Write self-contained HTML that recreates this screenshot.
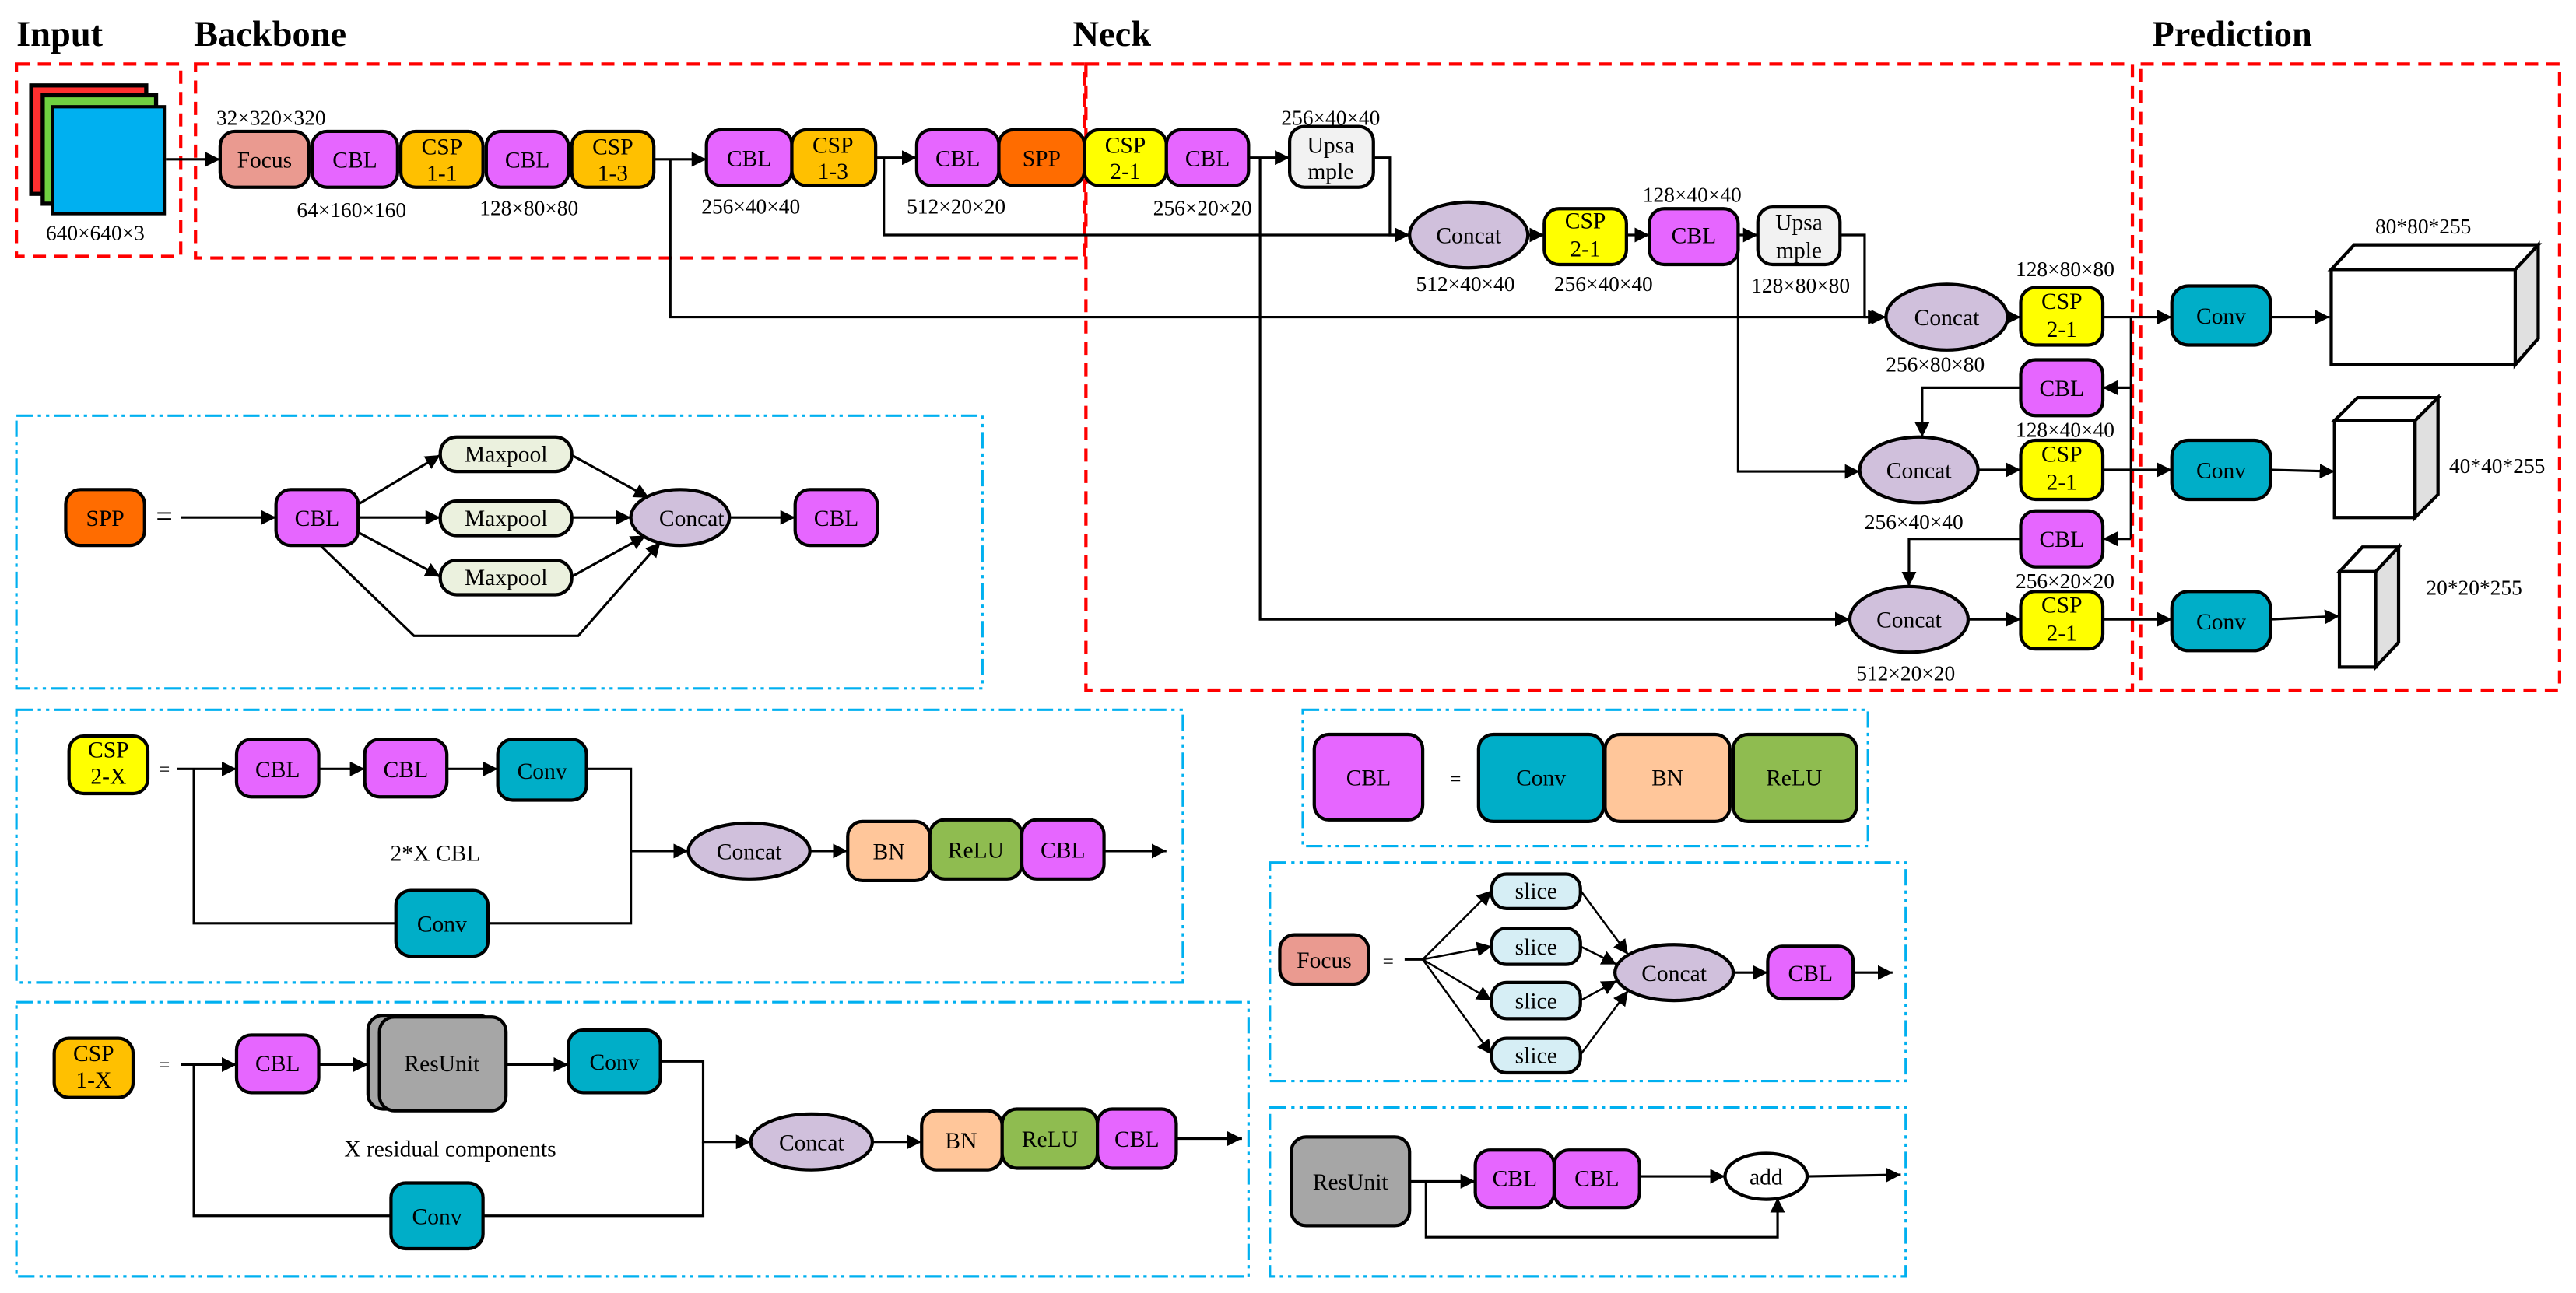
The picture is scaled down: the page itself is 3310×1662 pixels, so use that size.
<!DOCTYPE html>
<html><head><meta charset="utf-8"><style>
html,body{margin:0;padding:0;background:#fff;width:3310px;height:1662px;overflow:hidden}
svg text{font-family:"Liberation Serif",serif;fill:#000}
</style></head><body>
<svg width="3310" height="1662" viewBox="0 0 1568 787" preserveAspectRatio="none" xmlns="http://www.w3.org/2000/svg">
<defs>
<marker id="a" viewBox="0 0 10 10" refX="10" refY="5" markerWidth="9" markerHeight="9" markerUnits="userSpaceOnUse" orient="auto"><path d="M0,0L10,5L0,10z" fill="#000"/></marker>
</defs>
<g font-size="22" font-weight="bold">
<text x="10" y="28" font-size="22">Input</text>
<text x="118" y="28">Backbone</text>
<text x="653" y="28">Neck</text>
<text x="1310" y="28">Prediction</text>
</g>
<g fill="none" stroke="#f00" stroke-width="2" stroke-dasharray="8,5">
<rect x="10" y="39" width="100" height="117"/>
<rect x="119" y="39" width="541" height="118"/>
<rect x="661" y="39" width="637" height="381"/>
<rect x="1303" y="39" width="255" height="381"/>
</g>
<g fill="none" stroke="#00B0F0" stroke-width="1.5" stroke-dasharray="10,3,2,3,2,3">
<rect x="10" y="253" width="588" height="166"/>
<rect x="10" y="432" width="710" height="166"/>
<rect x="10" y="610" width="750" height="167"/>
<rect x="793" y="432" width="344" height="83"/>
<rect x="773" y="525" width="387" height="133"/>
<rect x="773" y="674" width="387" height="103"/>
</g>
<!-- input stack -->
<g stroke="#000" stroke-width="2.5">
<rect x="19" y="52" width="70" height="66" fill="#FF3030"/>
<rect x="26" y="58" width="69" height="66" fill="#70D040"/>
<rect x="32" y="65" width="68" height="65" fill="#00B0F0" stroke-width="2"/>
</g>
<g stroke="#000" stroke-width="1.5" fill="none" marker-end="url(#a)">
<line x1="101" y1="97" x2="134" y2="97"/>
<polyline points="398,97 430,97"/>
<polyline points="408,97 408,193 1146,193"/>
<polyline points="533,96 558,96"/>
<polyline points="538,96 538,143 858,143"/>
<polyline points="760,96 785,96"/>
<polyline points="767,96 767,377 1126,377"/>
<polyline points="836,96 846,96 846,143 858,143"/>
<line x1="930" y1="143" x2="940" y2="143"/>
<line x1="990" y1="143" x2="1004" y2="143"/>
<line x1="1058" y1="143" x2="1070" y2="143"/>
<polyline points="1120,143 1135,143 1135,193 1148,193"/>
<polyline points="1058,143 1058,287 1132,287"/>
<line x1="1222" y1="193" x2="1230" y2="193"/>
<line x1="1280" y1="193" x2="1322" y2="193"/>
<line x1="1382" y1="193" x2="1418" y2="193"/>
<line x1="1204" y1="286" x2="1230" y2="286"/>
<line x1="1280" y1="286" x2="1322" y2="286"/>
<line x1="1382" y1="286" x2="1421" y2="287"/>
<line x1="1198" y1="377" x2="1230" y2="377"/>
<line x1="1280" y1="377" x2="1322" y2="377"/>
<line x1="1382" y1="377" x2="1424" y2="375"/>
<line x1="1297" y1="236" x2="1280" y2="236"/>
<line x1="1297" y1="328" x2="1280" y2="328"/>
<polyline points="1230,236 1170,236 1170,266"/>
<polyline points="1230,328 1162,328 1162,357"/>
</g>
<line x1="1297" y1="193" x2="1297" y2="328" stroke="#000" stroke-width="1.2"/>
<!-- boxes -->
<g stroke="#000" stroke-width="2" font-size="14">
<rect x="134" y="80" width="54" height="34" rx="9" fill="#EA9A90"/>
<rect x="190" y="80" width="52" height="34" rx="9" fill="#E666FF"/>
<rect x="244" y="80" width="50" height="34" rx="9" fill="#FFC000"/>
<rect x="296" y="80" width="50" height="34" rx="9" fill="#E666FF"/>
<rect x="348" y="80" width="50" height="34" rx="9" fill="#FFC000"/>
<rect x="430" y="79" width="52" height="34" rx="9" fill="#E666FF"/>
<rect x="482" y="79" width="51" height="34" rx="9" fill="#FFC000"/>
<rect x="558" y="79" width="50" height="34" rx="9" fill="#E666FF"/>
<rect x="608" y="79" width="52" height="34" rx="9" fill="#FF6C00"/>
<rect x="660" y="79" width="50" height="34" rx="9" fill="#FFFF00"/>
<rect x="710" y="79" width="50" height="34" rx="9" fill="#E666FF"/>
<rect x="785" y="77" width="51" height="37" rx="9" fill="#F2F2F2"/>
<ellipse cx="894" cy="143" rx="36" ry="20" fill="#D0C0DC"/>
<rect x="940" y="127" width="50" height="34" rx="9" fill="#FFFF00"/>
<rect x="1004" y="127" width="54" height="34" rx="9" fill="#E666FF"/>
<rect x="1070" y="126" width="50" height="35" rx="9" fill="#F2F2F2"/>
<ellipse cx="1185" cy="193" rx="37" ry="20" fill="#D0C0DC"/>
<rect x="1230" y="175" width="50" height="35" rx="9" fill="#FFFF00"/>
<rect x="1230" y="219" width="50" height="34" rx="9" fill="#E666FF"/>
<ellipse cx="1168" cy="286" rx="36" ry="20" fill="#D0C0DC"/>
<rect x="1230" y="268" width="50" height="36" rx="9" fill="#FFFF00"/>
<rect x="1230" y="311" width="50" height="34" rx="9" fill="#E666FF"/>
<ellipse cx="1162" cy="377" rx="36" ry="20" fill="#D0C0DC"/>
<rect x="1230" y="360" width="50" height="35" rx="9" fill="#FFFF00"/>
<rect x="1322" y="174" width="60" height="36" rx="10" fill="#00AEC8"/>
<rect x="1322" y="268" width="60" height="36" rx="10" fill="#00AEC8"/>
<rect x="1322" y="360" width="60" height="36" rx="10" fill="#00AEC8"/>
</g>
<!-- cubes -->
<g stroke="#000" stroke-width="2">
<polygon points="1531,164 1545,149 1545,206 1531,222" fill="#e0e0e0"/>
<polygon points="1419,164 1433,149 1545,149 1531,164" fill="#fff"/>
<rect x="1419" y="164" width="112" height="58" fill="#fff"/>
<polygon points="1470,256 1484,242 1484,301 1470,315" fill="#e0e0e0"/>
<polygon points="1421,256 1435,242 1484,242 1470,256" fill="#fff"/>
<rect x="1421" y="256" width="49" height="59" fill="#fff"/>
<polygon points="1446,348 1460,333 1460,391 1446,406" fill="#e0e0e0"/>
<polygon points="1424,348 1438,333 1460,333 1446,348" fill="#fff"/>
<rect x="1424" y="348" width="22" height="58" fill="#fff"/>
</g>
<g font-size="14" text-anchor="middle">
<text x="161" y="102">Focus</text>
<text x="216" y="102">CBL</text>
<text x="269" y="94">CSP</text><text x="269" y="110">1-1</text>
<text x="321" y="102">CBL</text>
<text x="373" y="94">CSP</text><text x="373" y="110">1-3</text>
<text x="456" y="101">CBL</text>
<text x="507" y="93">CSP</text><text x="507" y="109">1-3</text>
<text x="583" y="101">CBL</text>
<text x="634" y="101">SPP</text>
<text x="685" y="93">CSP</text><text x="685" y="109">2-1</text>
<text x="735" y="101">CBL</text>
<text x="810" y="93">Upsa</text><text x="810" y="109">mple</text>
<text x="894" y="148">Concat</text>
<text x="965" y="139">CSP</text><text x="965" y="156">2-1</text>
<text x="1031" y="148">CBL</text>
<text x="1095" y="140">Upsa</text><text x="1095" y="157">mple</text>
<text x="1185" y="198">Concat</text>
<text x="1255" y="188">CSP</text><text x="1255" y="205">2-1</text>
<text x="1255" y="241">CBL</text>
<text x="1168" y="291">Concat</text>
<text x="1255" y="281">CSP</text><text x="1255" y="298">2-1</text>
<text x="1255" y="333">CBL</text>
<text x="1162" y="382">Concat</text>
<text x="1255" y="373">CSP</text><text x="1255" y="390">2-1</text>
<text x="1352" y="197">Conv</text>
<text x="1352" y="291">Conv</text>
<text x="1352" y="383">Conv</text>
</g>
<g font-size="13" text-anchor="middle">
<text x="58" y="146">640×640×3</text>
<text x="165" y="76">32×320×320</text>
<text x="214" y="132">64×160×160</text>
<text x="322" y="131">128×80×80</text>
<text x="457" y="130">256×40×40</text>
<text x="582" y="130">512×20×20</text>
<text x="732" y="131">256×20×20</text>
<text x="810" y="76">256×40×40</text>
<text x="1030" y="123">128×40×40</text>
<text x="892" y="177">512×40×40</text>
<text x="976" y="177">256×40×40</text>
<text x="1096" y="178">128×80×80</text>
<text x="1257" y="168">128×80×80</text>
<text x="1178" y="226">256×80×80</text>
<text x="1165" y="322">256×40×40</text>
<text x="1257" y="266">128×40×40</text>
<text x="1257" y="358">256×20×20</text>
<text x="1160" y="414">512×20×20</text>
<text x="1475" y="142">80*80*255</text>
<text x="1520" y="288">40*40*255</text>
<text x="1506" y="362">20*20*255</text>
</g>
<!-- SPP panel -->
<g stroke="#000" stroke-width="1.5" fill="none" marker-end="url(#a)">
<line x1="110" y1="315" x2="168" y2="315"/>
<line x1="218" y1="307" x2="268" y2="277"/>
<line x1="218" y1="315" x2="268" y2="315"/>
<line x1="218" y1="324" x2="268" y2="351"/>
<line x1="348" y1="277" x2="395" y2="303"/>
<line x1="348" y1="315" x2="384" y2="315"/>
<line x1="348" y1="351" x2="393" y2="326"/>
<polyline points="195,332 252,387 352,387 402,330"/>
<line x1="444" y1="315" x2="484" y2="315"/>
</g>
<g stroke="#000" stroke-width="2" font-size="14">
<rect x="40" y="298" width="48" height="34" rx="9" fill="#FF6C00"/>
<rect x="168" y="298" width="50" height="34" rx="9" fill="#E666FF"/>
<rect x="268" y="266" width="80" height="21" rx="10" fill="#EBF1DE"/>
<rect x="268" y="305" width="80" height="21" rx="10" fill="#EBF1DE"/>
<rect x="268" y="341" width="80" height="21" rx="10" fill="#EBF1DE"/>
<ellipse cx="414" cy="315" rx="30" ry="17" fill="#D0C0DC"/>
<rect x="484" y="298" width="50" height="34" rx="9" fill="#E666FF"/>
</g>
<g font-size="14" text-anchor="middle">
<text x="64" y="320">SPP</text>
<text x="100" y="320" font-size="18">=</text>
<text x="193" y="320">CBL</text>
<text x="308" y="281">Maxpool</text>
<text x="308" y="320">Maxpool</text>
<text x="308" y="356">Maxpool</text>
<text x="421" y="320">Concat</text>
<text x="509" y="320">CBL</text>
</g>
<!-- CSP2-X panel -->
<g stroke="#000" stroke-width="1.5" fill="none" marker-end="url(#a)">
<line x1="108" y1="468" x2="144" y2="468"/>
<line x1="194" y1="468" x2="222" y2="468"/>
<line x1="272" y1="468" x2="303" y2="468"/>
<polyline points="357,468 384,468 384,518 419,518"/>
<line x1="493" y1="518" x2="516" y2="518"/>
<line x1="672" y1="518" x2="710" y2="518"/>
</g>
<g stroke="#000" stroke-width="1.5" fill="none">
<polyline points="118,468 118,562 241,562"/>
<polyline points="297,562 384,562 384,518"/>
</g>
<g stroke="#000" stroke-width="2" font-size="14">
<rect x="42" y="448" width="48" height="35" rx="9" fill="#FFFF00"/>
<rect x="144" y="450" width="50" height="35" rx="9" fill="#E666FF"/>
<rect x="222" y="450" width="50" height="35" rx="9" fill="#E666FF"/>
<rect x="303" y="450" width="54" height="37" rx="9" fill="#00AEC8"/>
<rect x="241" y="542" width="56" height="40" rx="9" fill="#00AEC8"/>
<ellipse cx="456" cy="518" rx="37" ry="17" fill="#D0C0DC"/>
<rect x="516" y="500" width="50" height="36" rx="9" fill="#FFC69A"/>
<rect x="566" y="499" width="56" height="36" rx="9" fill="#8FBC50"/>
<rect x="622" y="499" width="50" height="36" rx="9" fill="#E666FF"/>
</g>
<g font-size="14" text-anchor="middle">
<text x="66" y="461">CSP</text><text x="66" y="477">2-X</text>
<text x="100" y="472" font-size="12">=</text>
<text x="169" y="473">CBL</text>
<text x="247" y="473">CBL</text>
<text x="330" y="474">Conv</text>
<text x="269" y="567">Conv</text>
<text x="265" y="524">2*X CBL</text>
<text x="456" y="523">Concat</text>
<text x="541" y="523">BN</text>
<text x="594" y="522">ReLU</text>
<text x="647" y="522">CBL</text>
</g>
<!-- CSP1-X panel -->
<g stroke="#000" stroke-width="1.5" fill="none" marker-end="url(#a)">
<line x1="110" y1="648" x2="144" y2="648"/>
<line x1="194" y1="648" x2="224" y2="648"/>
<line x1="308" y1="648" x2="346" y2="648"/>
<polyline points="402,646 428,646 428,695 457,695"/>
<line x1="531" y1="695" x2="561" y2="695"/>
<line x1="716" y1="693" x2="756" y2="693"/>
</g>
<g stroke="#000" stroke-width="1.5" fill="none">
<polyline points="118,648 118,740 238,740"/>
<polyline points="294,740 428,740 428,695"/>
</g>
<g stroke="#000" stroke-width="2" font-size="14">
<rect x="33" y="632" width="48" height="36" rx="9" fill="#FFC000"/>
<rect x="144" y="630" width="50" height="35" rx="9" fill="#E666FF"/>
<rect x="224" y="618" width="76" height="57" rx="9" fill="#A6A6A6"/>
<rect x="231" y="619" width="77" height="57" rx="9" fill="#A6A6A6"/>
<rect x="346" y="627" width="56" height="38" rx="9" fill="#00AEC8"/>
<rect x="238" y="720" width="56" height="40" rx="9" fill="#00AEC8"/>
<ellipse cx="494" cy="695" rx="37" ry="17" fill="#D0C0DC"/>
<rect x="561" y="676" width="49" height="36" rx="9" fill="#FFC69A"/>
<rect x="610" y="675" width="58" height="36" rx="9" fill="#8FBC50"/>
<rect x="668" y="675" width="48" height="36" rx="9" fill="#E666FF"/>
</g>
<g font-size="14" text-anchor="middle">
<text x="57" y="646">CSP</text><text x="57" y="662">1-X</text>
<text x="100" y="652" font-size="12">=</text>
<text x="169" y="652">CBL</text>
<text x="269" y="652">ResUnit</text>
<text x="374" y="651">Conv</text>
<text x="266" y="745">Conv</text>
<text x="274" y="704">X residual components</text>
<text x="494" y="700">Concat</text>
<text x="585" y="699">BN</text>
<text x="639" y="698">ReLU</text>
<text x="692" y="698">CBL</text>
</g>
<!-- CBL panel -->
<g stroke="#000" stroke-width="2" font-size="14">
<rect x="800" y="447" width="66" height="52" rx="9" fill="#E666FF"/>
<rect x="900" y="447" width="76" height="53" rx="9" fill="#00AEC8"/>
<rect x="977" y="447" width="76" height="53" rx="9" fill="#FFC69A"/>
<rect x="1055" y="447" width="75" height="53" rx="9" fill="#8FBC50"/>
</g>
<g font-size="14" text-anchor="middle">
<text x="833" y="478">CBL</text>
<text x="886" y="478" font-size="12">=</text>
<text x="938" y="478">Conv</text>
<text x="1015" y="478">BN</text>
<text x="1092" y="478">ReLU</text>
</g>
<!-- Focus panel -->
<g stroke="#000" stroke-width="1.2" fill="none" marker-end="url(#a)">
<line x1="866" y1="584" x2="908" y2="542"/>
<line x1="866" y1="584" x2="908" y2="576"/>
<line x1="866" y1="584" x2="908" y2="609"/>
<line x1="866" y1="584" x2="908" y2="642"/>
<line x1="962" y1="542" x2="991" y2="581"/>
<line x1="962" y1="576" x2="984" y2="587"/>
<line x1="962" y1="609" x2="984" y2="597"/>
<line x1="962" y1="642" x2="991" y2="603"/>
<line x1="1055" y1="592" x2="1076" y2="592" stroke-width="1.5"/>
<line x1="1128" y1="592" x2="1152" y2="592" stroke-width="1.5"/>
</g>
<line x1="855" y1="584" x2="866" y2="584" stroke="#000" stroke-width="1.5"/>
<g stroke="#000" stroke-width="2" font-size="14">
<rect x="779" y="569" width="54" height="30" rx="9" fill="#EA9A90"/>
<rect x="908" y="532" width="54" height="21" rx="9" fill="#D6EEF5"/>
<rect x="908" y="565" width="54" height="22" rx="9" fill="#D6EEF5"/>
<rect x="908" y="598" width="54" height="22" rx="9" fill="#D6EEF5"/>
<rect x="908" y="632" width="54" height="21" rx="9" fill="#D6EEF5"/>
<ellipse cx="1019" cy="592" rx="36" ry="17" fill="#D0C0DC"/>
<rect x="1076" y="576" width="52" height="32" rx="9" fill="#E666FF"/>
</g>
<g font-size="14" text-anchor="middle">
<text x="806" y="589">Focus</text>
<text x="845" y="589" font-size="12">=</text>
<text x="935" y="547">slice</text>
<text x="935" y="581">slice</text>
<text x="935" y="614">slice</text>
<text x="935" y="647">slice</text>
<text x="1019" y="597">Concat</text>
<text x="1102" y="597">CBL</text>
</g>
<!-- ResUnit panel -->
<g stroke="#000" stroke-width="1.5" fill="none" marker-end="url(#a)">
<line x1="858" y1="719" x2="898" y2="719"/>
<line x1="998" y1="716" x2="1050" y2="716"/>
<line x1="1100" y1="716" x2="1157" y2="715"/>
<polyline points="868,719 868,753 1082,753 1082,729"/>
</g>
<g stroke="#000" stroke-width="2" font-size="14">
<rect x="786" y="692" width="72" height="54" rx="9" fill="#A6A6A6"/>
<rect x="898" y="700" width="48" height="35" rx="9" fill="#E666FF"/>
<rect x="946" y="700" width="52" height="35" rx="9" fill="#E666FF"/>
<ellipse cx="1075" cy="716" rx="25" ry="14" fill="#fff"/>
</g>
<g font-size="14" text-anchor="middle">
<text x="822" y="724">ResUnit</text>
<text x="922" y="722">CBL</text>
<text x="972" y="722">CBL</text>
<text x="1075" y="721">add</text>
</g>
</svg>
</body></html>
